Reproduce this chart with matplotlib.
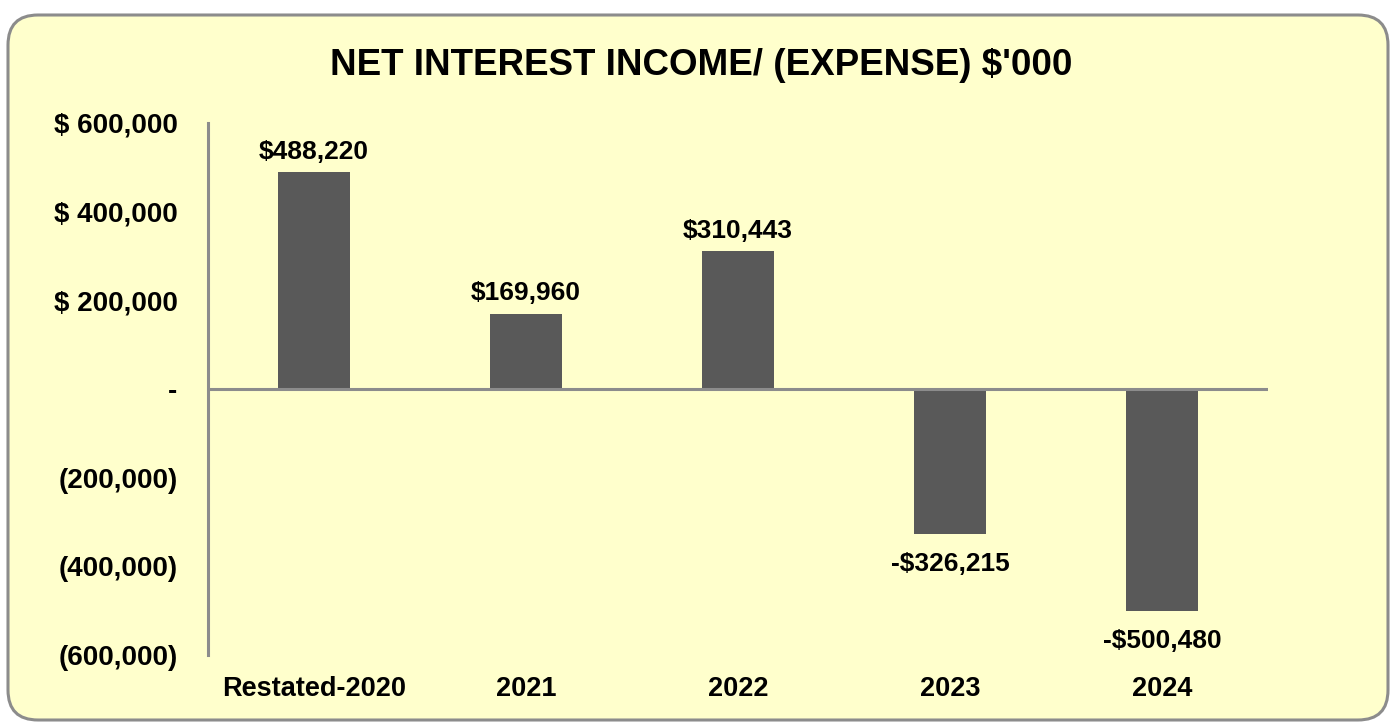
import matplotlib.pyplot as plt
from matplotlib.patches import FancyBboxPatch

categories = ['Restated-2020', '2021', '2022', '2023', '2024']
values = [488220, 169960, 310443, -326215, -500480]
yticks = [600000, 400000, 200000, 0, -200000, -400000, -600000]
ytick_labels = ['$ 600,000', '$ 400,000', '$ 200,000', '-', '(200,000)', '(400,000)', '(600,000)']

BAR_COLOR = '#595959'
AXIS_COLOR = '#8c8c8c'
BG_COLOR = '#ffffcc'

plt.rcParams['font.family'] = ['Liberation Sans', 'DejaVu Sans']


def money(v):
    return f'-${-v:,.0f}' if v < 0 else f'${v:,.0f}'


fig = plt.figure(figsize=(13.91, 7.23), dpi=100)
fig.patch.set_facecolor('white')

# rounded chart frame, kept behind the axes
box = FancyBboxPatch((0.08, 0.03), 13.80, 7.05,
                     boxstyle='round,pad=0,rounding_size=0.3',
                     transform=fig.dpi_scale_trans,
                     facecolor=BG_COLOR, edgecolor=AXIS_COLOR, linewidth=2.2,
                     zorder=-5)
fig.patches.append(box)

fig.text(0.504, 0.910, "NET INTEREST INCOME/ (EXPENSE) $'000",
         ha='center', va='center', fontsize=26.5, fontweight='bold')

ax = fig.add_axes([0.1495, 0.094, 0.762, 0.736])
ax.patch.set_alpha(0)

x = range(len(categories))
ax.bar(x, values, width=0.34, color=BAR_COLOR, zorder=2)

for i, v in enumerate(values):
    if v >= 0:
        ax.annotate(money(v), (i, v), xytext=(0, 6), textcoords='offset points',
                    ha='center', va='bottom', fontsize=19, fontweight='bold')
    else:
        ax.annotate(money(v), (i, v), xytext=(0, -13), textcoords='offset points',
                    ha='center', va='top', fontsize=19, fontweight='bold')

ax.set_xlim(-0.5, 4.5)
ax.set_ylim(-600000, 600000)
ax.axhline(0, color=AXIS_COLOR, linewidth=2.2, zorder=3)

ax.set_yticks(yticks)
ax.set_yticklabels(ytick_labels, fontsize=20, fontweight='bold')
ax.set_xticks(list(x))
ax.set_xticklabels(categories, fontsize=19.5, fontweight='bold')
ax.tick_params(axis='both', length=0)
ax.tick_params(axis='y', pad=22)
ax.tick_params(axis='x', pad=15)

for s in ['top', 'right', 'bottom']:
    ax.spines[s].set_visible(False)
ax.spines['left'].set_color(AXIS_COLOR)
ax.spines['left'].set_linewidth(2.2)

fig.savefig('out.png', dpi=100)
